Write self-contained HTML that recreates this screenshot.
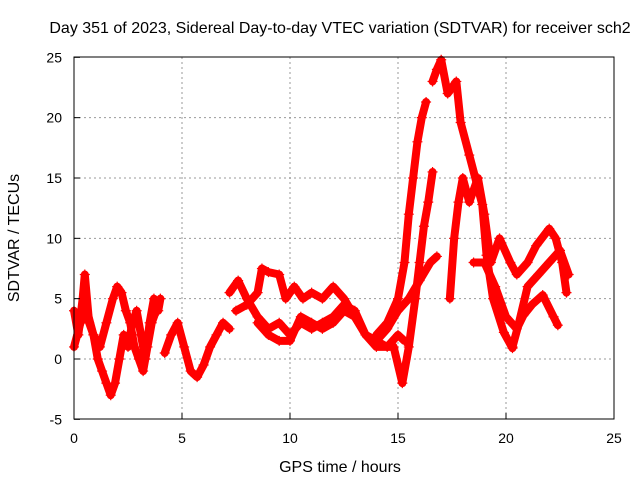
<!DOCTYPE html>
<html><head><meta charset="utf-8"><style>
body{margin:0;background:#fff}
svg text{font-family:"Liberation Sans",sans-serif;font-size:14px;fill:#000}
svg text.big{font-size:16px}
</style></head><body>
<svg id="c" width="640" height="480" xmlns="http://www.w3.org/2000/svg">
<rect width="640" height="480" fill="#fff"/>
<text class="big" x="340" y="33" text-anchor="middle">Day 351 of 2023, Sidereal Day-to-day VTEC variation (SDTVAR) for receiver sch2</text>
<text class="big" x="340" y="472" text-anchor="middle">GPS time / hours</text>
<text class="big" x="0" y="0" transform="translate(19,238) rotate(-90)" text-anchor="middle">SDTVAR / TECUs</text>
<g id="grid"></g><g id="marks"></g>
<rect x="74" y="57" width="540" height="362" fill="none" stroke="#000" stroke-width="1"/>
<g id="ticks"></g>
</svg>
<script>
const xTicks=[0,5,10,15,20,25];
const yTicks=[-5,0,5,10,15,20,25];
const s1t=[0,0.2,0.4,0.5,0.7,0.9,1.1,1.3,1.5,1.7,1.9,2.1,2.3,2.5,2.7,2.9,3.1,3.3,3.5,3.7,3.9,4.0];
const s1v=[4,2,5,7,3,2,0,-1,-2,-3,-2,0,2,1,3,4,2,0,3,5,4,5];
const s2t=[0,0.3,0.6,0.9,1.2,1.5,1.8,2.0,2.2,2.4,2.6,2.8,3.0,3.2,3.4,3.6,3.8];
const s2v=[1,3,4,2,1,3,5,6,5.5,4,3,1,0,-1,1,3,4];
const s3t=[4.2,4.5,4.8,5.1,5.4,5.7,6.0,6.3,6.6,6.9,7.2];
const s3v=[0.5,2,3,1,-1,-1.5,-0.5,1,2,3,2.5];
const s4t=[7.2,7.6,8.0,8.5,9.0,9.5,10,10.5,11,11.5,12,12.5,13,13.5,14,14.5,15,15.3];
const s4v=[5.5,6.5,5,3.5,2.5,3,2,3,2.5,3,3.5,4.5,4,2,1.5,1,2,1.5];
const s5t=[7.5,8.0,8.5,8.7,9.0,9.5,9.8,10.2,10.6,11,11.5,12,12.5,13,13.5,14,14.5,15,15.5,16,16.5,16.8];
const s5v=[4,4.5,5.5,7.5,7.2,7,5,6,5,5.5,5,6,5,3.5,2,1.5,2.5,4,5,6.5,8,8.5];
const s6t=[8.5,9,9.5,10,10.5,11,11.5,12,12.5,13,13.5,14,14.8,15.2,15.5,15.8,16.0,16.2,16.4,16.6];
const s6v=[3,2,1.5,1.5,3.5,3,2.5,3,4,3.5,2,1,1,-2,1,5,8,11,13,15.5];
const s7t=[14,14.5,15,15.3,15.5,15.7,15.9,16.1,16.3];
const s7v=[2,3,5,8,12,15,18,20,21.3];
const s8t=[16.6,16.8,17.0,17.3,17.7,17.9,18.3,18.9,19.1,19.4,19.9,20.3];
const s8v=[23,24,24.8,22,23,19.6,16.9,12.8,8.6,5,2.2,0.9];
const s9t=[17.4,17.6,17.8,18.0,18.3,18.7,19.0,19.3,19.7,20.2,20.5,21.0,21.4,22.0,22.3,22.6,22.8];
const s9v=[5,10,13,15,13,15,12,8,10,8,7,8,9.4,10.8,10,8,5.5];
const s10t=[18.5,19,19.5,20,20.5,20.8,21.2,21.7,22.2,22.4];
const s10v=[8,8,6,3.5,2.5,3.6,4.5,5.3,3.5,2.8];
const s11t=[20.3,20.6,21,21.5,22,22.5,22.9];
const s11v=[1,3,6,7,8,9,7];
const series=[[s1t,s1v],[s2t,s2v],[s3t,s3v],[s4t,s4v],[s5t,s5v],[s6t,s6v],[s7t,s7v],[s8t,s8v],[s9t,s9v],[s10t,s10v],[s11t,s11v]];
const NS="http://www.w3.org/2000/svg";
const X=t=>74+t*21.6, Y=v=>359-v*12.067;
const grid=document.getElementById('grid'),ticks=document.getElementById('ticks'),marks=document.getElementById('marks');
function mk(tag,attrs,parent){const e=document.createElementNS(NS,tag);for(const k in attrs)e.setAttribute(k,attrs[k]);parent.appendChild(e);return e;}
xTicks.forEach(t=>{
 if(t>0&&t<25){const g=mk('line',{x1:X(t),x2:X(t),y1:57,y2:419,stroke:'#999','stroke-dasharray':'2,3'},grid);
 
 }
 const tk=mk('line',{x1:X(t),x2:X(t),y1:419,y2:413,stroke:'#000'},ticks);
 
 
 const l=mk('text',{x:X(t),y:443,'text-anchor':'middle'},ticks);l.textContent=t;
 
 
});
yTicks.forEach(v=>{
 if(v>-5&&v<25){const g=mk('line',{x1:74,x2:614,y1:Y(v),y2:Y(v),stroke:'#999','stroke-dasharray':'2,3'},grid);
 
 }
 const tk=mk('line',{x1:74,x2:80,y1:Y(v),y2:Y(v),stroke:'#000'},ticks);
 
 
 const l=mk('text',{x:62,y:Y(v)+5,'text-anchor':'end'},ticks);l.textContent=v;
 
 
});
series.forEach(([ts,vs],i)=>{
 const pl=mk('polyline',{points:ts.map((t,j)=>X(t)+','+Y(vs[j])).join(' '),fill:'none',stroke:'#f00','stroke-width':8,'stroke-linejoin':'round','stroke-linecap':'round'},marks);
 
 
 ts.forEach((t,j)=>{
  const x=X(t),y=Y(vs[j]);
  const p=mk('path',{d:`M${x-5},${y}h10M${x},${y-5}v10`,stroke:'#f00','stroke-width':1.2},marks);
  
  
 });
});
</script>
</body></html>
